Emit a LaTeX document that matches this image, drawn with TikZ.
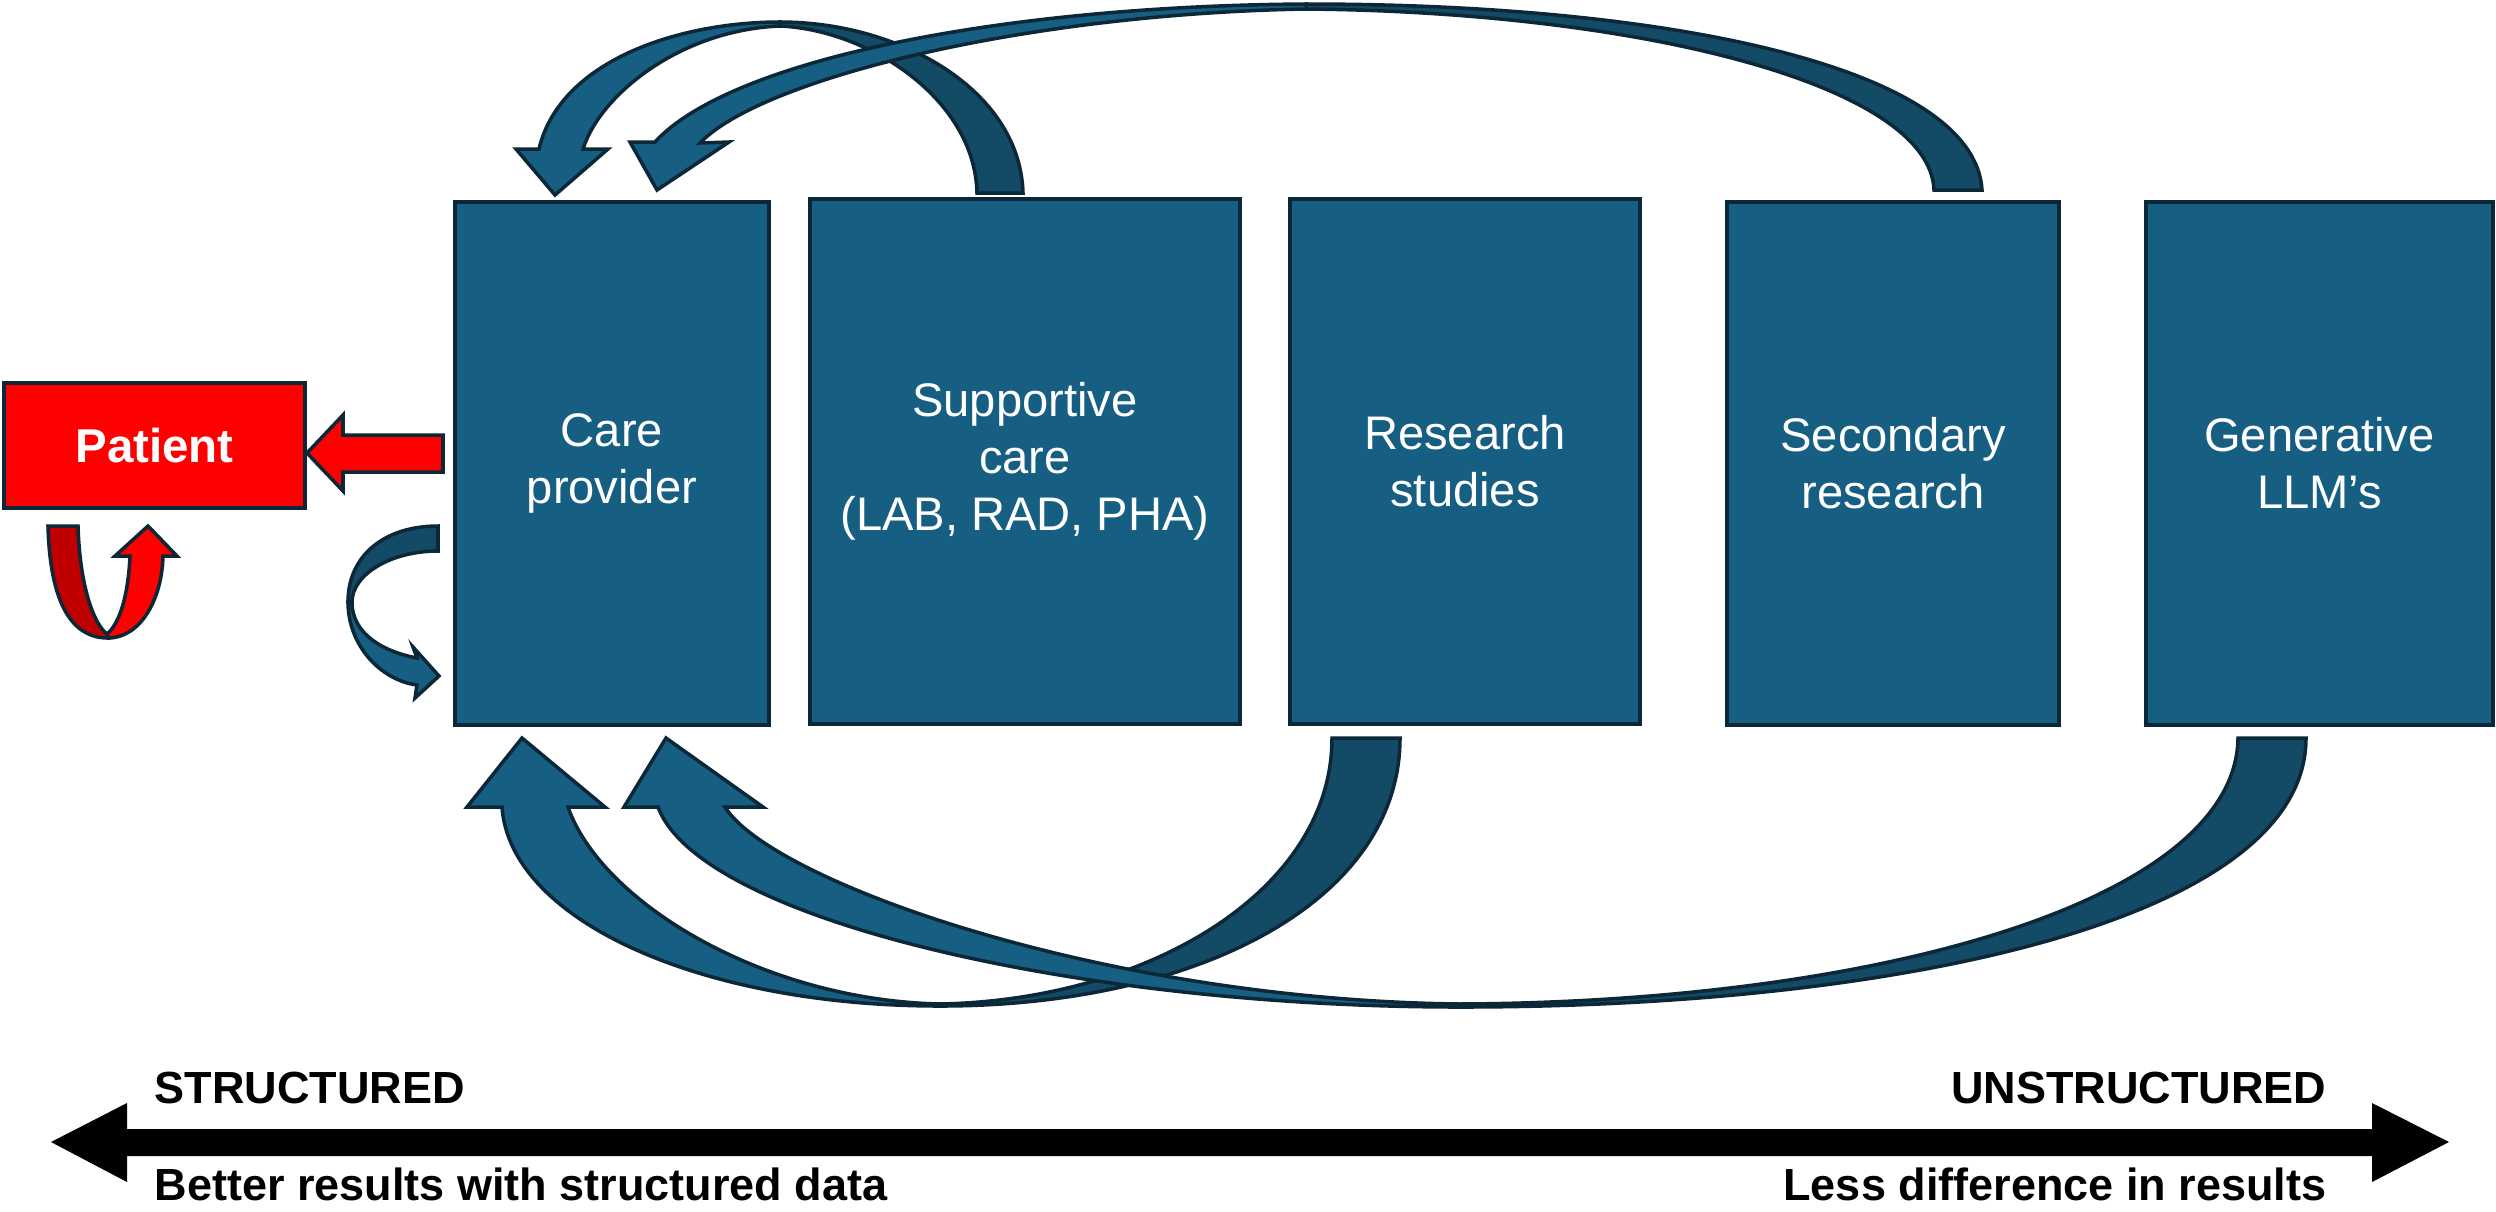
\documentclass[tikz,border=0pt]{standalone}
\usepackage{fontspec}
\setmainfont{Liberation Sans}
\definecolor{boxblue}{RGB}{23,95,130}
\definecolor{backblue}{RGB}{19,74,102}
\definecolor{edgeblue}{RGB}{12,40,56}
\definecolor{darkred}{RGB}{192,0,0}
\tikzset{
  block/.style={draw=edgeblue, line width=1pt, fill=boxblue, text=white, align=center,
    inner sep=0pt, font=\fontsize{13.4}{16.2}\selectfont},
  patientbox/.style={draw=edgeblue, line width=1pt, fill=red, text=white, inner sep=0pt,
    minimum width=3.01cm, minimum height=1.25cm, font=\bfseries\fontsize{13.5}{16}\selectfont},
  ribback/.style={draw=edgeblue, line width=1pt, fill=backblue},
  ribfront/.style={draw=edgeblue, line width=1pt, fill=boxblue},
  redback/.style={draw=edgeblue, line width=1pt, fill=darkred},
  redfront/.style={draw=edgeblue, line width=1pt, fill=red},
  axislabel/.style={inner sep=0pt, font=\bfseries\fontsize{12.8}{15}\selectfont}
}

\begin{document}
\begin{tikzpicture}[x=0.01cm, y=-0.01cm]
	\useasboundingbox (0,0) rectangle (2496,1211);
	% the five sources
	\node[block, minimum width=3.14cm, minimum height=5.23cm] (care) at (612,463.5) {Care\\provider};
	\node[block, minimum width=4.30cm, minimum height=5.25cm] (supp) at (1025,461.5) {Supportive\\care\\(LAB, RAD, PHA)};
	\node[block, minimum width=3.50cm, minimum height=5.25cm] (study) at (1465,461.5) {Research\\studies};
	\node[block, minimum width=3.32cm, minimum height=5.23cm] (second) at (1893,463.5) {Secondary\\research};
	\node[block, minimum width=3.47cm, minimum height=5.23cm] (llm) at (2319.5,463.5) {Generative\\LLM’s};
	\node[patientbox] (patient) at (154.5,445.5) {Patient};

	% supportive care -> care provider (top)
	\filldraw[ribback] (1023,193) .. controls (1020,90) and (900,22) .. (780,22) -- (780,26)
		.. controls (870,30) and (975,100) .. (977,193) -- cycle;
	\filldraw[ribfront] (780,22) .. controls (680,22) and (560,60) .. (539,149)
		-- (516,149) -- (555,195) -- (608,149) -- (583,149)
		.. controls (600,95) and (680,30) .. (780,26) -- cycle;
	% secondary research -> care provider (top)
	\filldraw[ribback] (1982,190) .. controls (1975,70) and (1680,4) .. (1306,4) -- (1306,9)
		.. controls (1640,12) and (1930,85) .. (1934,190) -- cycle;
	\filldraw[ribfront] (1306,4) .. controls (1000,6) and (730,60) .. (655,142)
		-- (630,142) -- (657,190) -- (729,142) -- (700,143)
		.. controls (760,80) and (1020,14) .. (1306,9) -- cycle;
	% research studies -> care provider (bottom)
	\filldraw[ribback] (1400,738) .. controls (1400,900) and (1200,1006) .. (940,1006) -- (940,1004)
		.. controls (1150,1000) and (1332,890) .. (1332,738) -- cycle;
	\filldraw[ribfront] (940,1006) .. controls (700,1006) and (510,920) .. (502,807)
		-- (467,807) -- (522,738) -- (605,807) -- (568,807)
		.. controls (600,900) and (760,1000) .. (940,1004) -- cycle;
	% generative LLM's -> care provider (bottom)
	\filldraw[ribback] (2306,738) .. controls (2306,920) and (1900,1007) .. (1460,1007) -- (1460,1004)
		.. controls (1880,1002) and (2236,900) .. (2238,738) -- cycle;
	\filldraw[ribfront] (1460,1007) .. controls (1080,1007) and (700,920) .. (658,807)
		-- (624,807) -- (666,738) -- (763,807) -- (725,807)
		.. controls (770,880) and (1100,1000) .. (1460,1004) -- cycle;
	% care provider loop
	\filldraw[ribback] (438,526) .. controls (385,526) and (348,555) .. (348,602) -- (352,602)
		.. controls (352,575) and (390,551) .. (438,551) -- cycle;
	\filldraw[ribfront] (348,602) .. controls (348,645) and (380,680) .. (417,685)
		-- (415,698) -- (439,676) -- (413,647) -- (417,658)
		.. controls (385,652) and (352,635) .. (352,602) -- cycle;

	% care provider -> patient
	\filldraw[redfront] (443,435) -- (343,435) -- (343,415) -- (307,453) -- (343,491)
		-- (343,472) -- (443,472) -- cycle;
	% patient loop
	\filldraw[redback] (48,526) .. controls (50,600) and (70,638) .. (108,638) -- (107,634)
		.. controls (95,625) and (80,590) .. (78,526) -- cycle;
	\filldraw[redfront] (108,638) .. controls (140,638) and (162,600) .. (163,556)
		-- (177,556) -- (148,526) -- (115,556) -- (130,556)
		.. controls (128,600) and (118,625) .. (107,634) -- cycle;

	% structured / unstructured scale
	\fill[black] (51,1142) -- (127,1103) -- (127,1129) -- (2372,1129) -- (2372,1103)
		-- (2449,1142) -- (2372,1182) -- (2372,1156) -- (127,1156) -- (127,1182) -- cycle;
	\node[axislabel, anchor=base west] (lstruct) at (154,1103) {STRUCTURED};
	\node[axislabel, anchor=base east] (rstruct) at (2327,1103) {UNSTRUCTURED};
	\node[axislabel, anchor=base west] (lnote) at (154,1200) {Better results with structured data};
	\node[axislabel, anchor=base east] (rnote) at (2327,1200) {Less difference in results};
\end{tikzpicture}
\end{document}
